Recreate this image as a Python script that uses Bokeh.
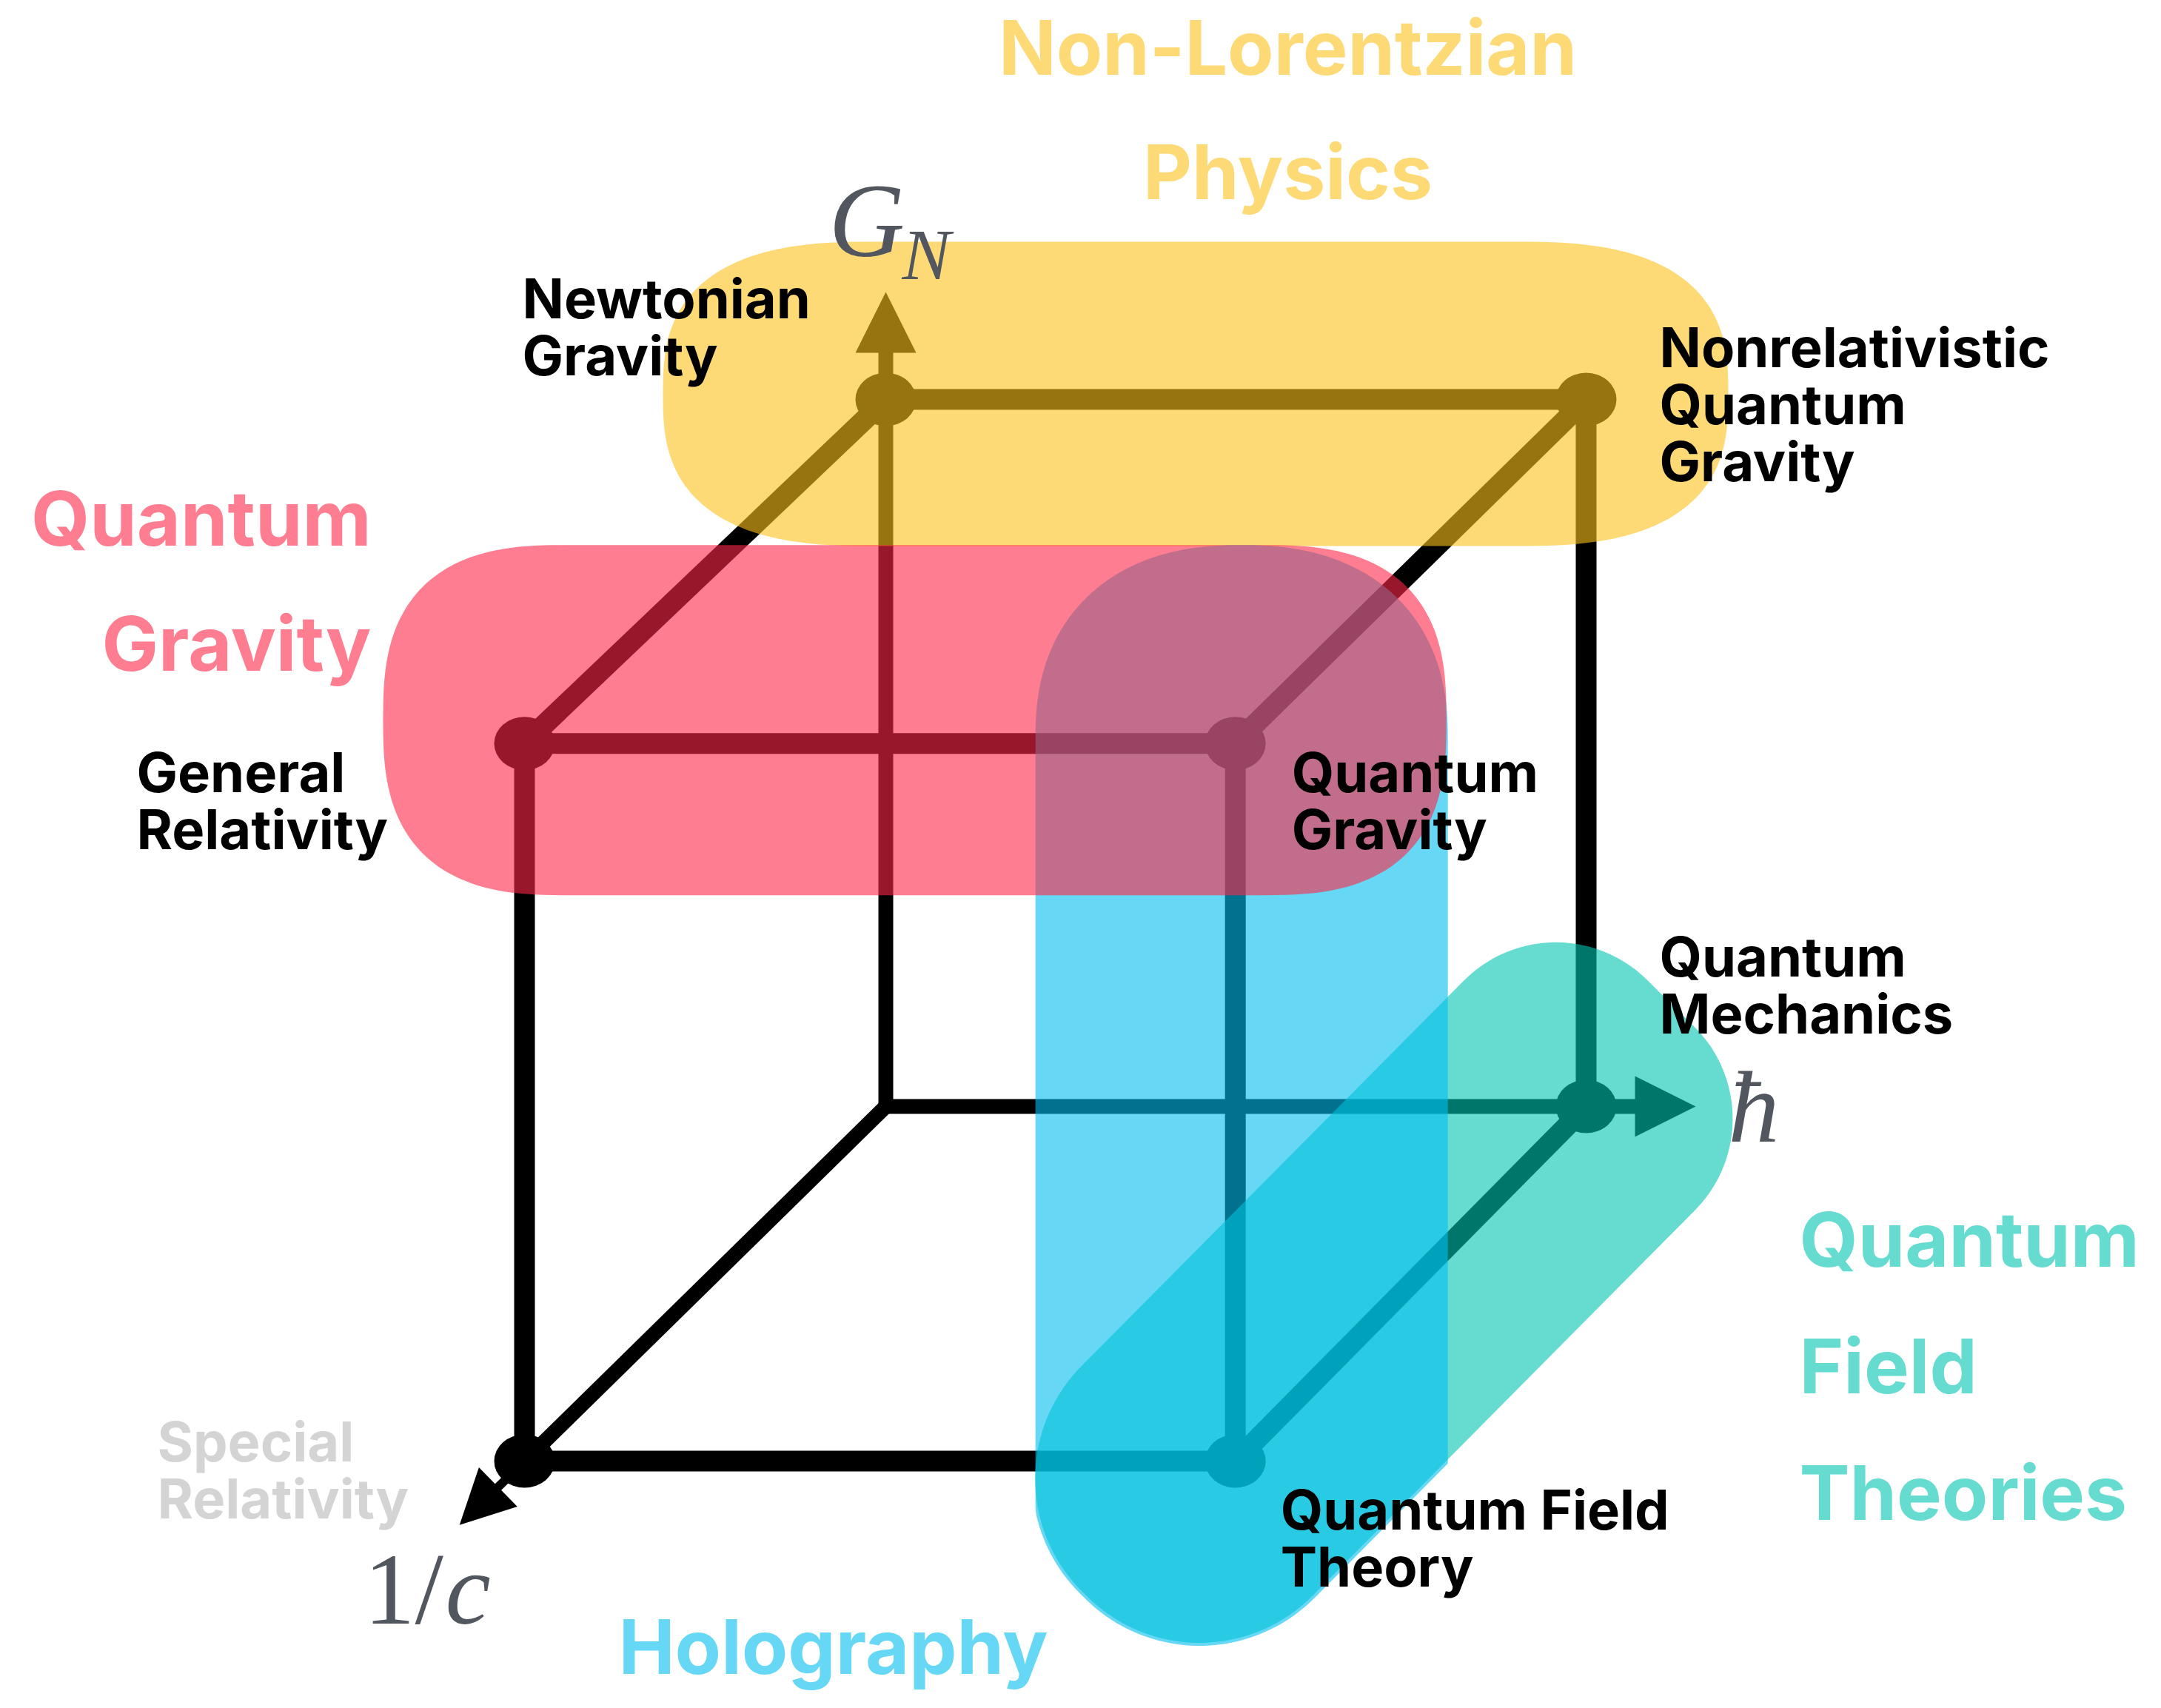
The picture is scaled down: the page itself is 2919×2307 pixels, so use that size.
import numpy as np
from bokeh.plotting import figure
from bokeh.models import Range1d
from bokeh.embed import file_html
from bokeh.resources import INLINE
from bokeh.core.properties import value

# ---------------- data ----------------
# theories sit on the corners of the (hbar, G_N, 1/c) cube
theory_names = ["Special Relativity", "General Relativity", "Newtonian Gravity",
                "Nonrelativistic Quantum Gravity", "Quantum Mechanics",
                "Quantum Field Theory", "Quantum Gravity"]
theory_hbar = [0, 0, 0, 1, 1, 1, 1]
theory_gn = [0, 1, 1, 1, 0, 0, 1]
theory_invc = [1, 1, 0, 0, 0, 1, 1]
theory_label_lines = [["Special", "Relativity"], ["General", "Relativity"],
                      ["Newtonian", "Gravity"], ["Nonrelativistic", "Quantum", "Gravity"],
                      ["Quantum", "Mechanics"], ["Quantum Field", "Theory"],
                      ["Quantum", "Gravity"]]

cube_edges = [("Newtonian Gravity", "Nonrelativistic Quantum Gravity"),
              ("Nonrelativistic Quantum Gravity", "Quantum Mechanics"),
              ("Newtonian Gravity", "General Relativity"),
              ("Nonrelativistic Quantum Gravity", "Quantum Gravity"),
              ("General Relativity", "Quantum Gravity"),
              ("General Relativity", "Special Relativity"),
              ("Quantum Gravity", "Quantum Field Theory"),
              ("Special Relativity", "Quantum Field Theory"),
              ("Quantum Mechanics", "Quantum Field Theory")]

region_names = ["Non-Lorentzian Physics", "Quantum Gravity", "Holography", "Quantum Field Theories"]
region_members = [["Newtonian Gravity", "Nonrelativistic Quantum Gravity"],
                  ["General Relativity", "Quantum Gravity"],
                  ["Quantum Gravity", "Quantum Field Theory"],
                  ["Quantum Mechanics", "Quantum Field Theory"]]
region_label_lines = [["Non-Lorentzian", "Physics"], ["Quantum", "Gravity"],
                      ["Holography"], ["Quantum", "Field", "Theories"]]

# ---------------- layout / style ----------------
ORIGIN = np.array([1204.0, 1502.0])
U_HBAR = np.array([946.0, 0.0])
V_GN = np.array([0.0, -955.0])
D_INVC = np.array([-488.0, 479.0])
DEPTH_SCALE = 0.015


def project(h, g, c):
    return ORIGIN + c * D_INVC + (1 + DEPTH_SCALE * c) * (h * U_HBAR + g * V_GN)


pos = {n: project(h, g, c) for n, h, g, c in zip(theory_names, theory_hbar, theory_gn, theory_invc)}

region_colors = ["#FCC21B", "#FF2646", "#00BEEE", "#00C4B3"]
ALPHA = 0.6
AX_COL = "#52565E"
SANS = value("Inter")
SERIF = value("Liberation Serif")

p = figure(width=2903, height=2291, x_range=Range1d(8, 2911), y_range=Range1d(2299, 8),
           output_backend="svg", toolbar_location=None, min_border=0)
p.axis.visible = False
p.grid.visible = False
p.outline_line_color = None
p.background_fill_color = "white"
p.border_fill_color = "white"

# --- axes (thin) ---
gpt, hpt, cpt = pos["Newtonian Gravity"], pos["Quantum Mechanics"], pos["Special Relativity"]
p.line([gpt[0], ORIGIN[0], hpt[0]], [gpt[1], ORIGIN[1], hpt[1]], line_width=20,
       line_color="black", line_join="miter")
p.line([ORIGIN[0], cpt[0]], [ORIGIN[1], cpt[1]], line_width=20, line_color="black")

# --- cube edges ---
xs = [[pos[a][0], pos[b][0]] for a, b in cube_edges]
ys = [[pos[a][1], pos[b][1]] for a, b in cube_edges]
p.multi_line(xs, ys, line_width=28, line_color="black")

# --- arrow shafts and heads ---
arrow_specs = [  # (vertex, direction, base offset, tip offset, half width, shaft width)
    (gpt, np.array([0.0, -1.0]), 63, 145, 41, 20),
    (hpt, np.array([1.0, 0.0]), 66, 148, 41, 20),
    (cpt, D_INVC / np.linalg.norm(D_INVC), 50, 123, 37, 12),
]
hx, hy = [], []
for v, d, b, t, hw, sw in arrow_specs:
    nrm = np.array([-d[1], d[0]])
    base = v + b * d
    p.line([v[0], base[0] + d[0] * 2], [v[1], base[1] + d[1] * 2], line_width=sw, line_color="black")
    tip = v + t * d
    c1, c2 = base + hw * nrm, base - hw * nrm
    hx.append([tip[0], c1[0], c2[0]])
    hy.append([tip[1], c1[1], c2[1]])
p.patches(hx, hy, fill_color="black", line_color=None)

# --- vertex dots ---
p.ellipse([pos[n][0] for n in theory_names], [pos[n][1] for n in theory_names],
          width=82, height=72, fill_color="black", line_color=None)


# --- highlighted regions ---
def _spow(v, e):
    return np.sign(v) * np.abs(v) ** e


def corner_arc(cx, cy, rx, ry, a0, a1, pw=2.0, n=48):
    e = 2.0 / pw
    t = np.linspace(a0, a1, n)
    return list(zip(cx + rx * _spow(np.cos(t), e), cy + ry * _spow(np.sin(t), e)))


def rounded_rect(x0, x1, y0, y1, top, bottom, pw=2.0):
    (rxt, ryt), (rxb, ryb) = top, bottom
    pts = []
    pts += corner_arc(x1 - rxt, y0 + ryt, rxt, ryt, -np.pi / 2, 0, pw)
    pts += corner_arc(x1 - rxb, y1 - ryb, rxb, ryb, 0, np.pi / 2, pw)
    pts += corner_arc(x0 + rxb, y1 - ryb, rxb, ryb, np.pi / 2, np.pi, pw)
    pts += corner_arc(x0 + rxt, y0 + ryt, rxt, ryt, np.pi, 1.5 * np.pi, pw)
    return pts


def arc_between(c, r, a, b, n=40):
    # quarter arc around c from unit direction a to unit direction b
    return [c + r * (np.cos(t) * a + np.sin(t) * b) for t in np.linspace(0, np.pi / 2, n)]


def band_pieces(e_top, e_bot, half_w, rc_top, rc_bot):
    """rotated rounded rectangle; returns its outline split in named pieces."""
    d = (e_top - e_bot) / np.linalg.norm(e_top - e_bot)
    nv = np.array([-d[1], d[0]])
    tr, tl = e_top + (half_w - rc_top) * nv, e_top - (half_w - rc_top) * nv
    br, bl = e_bot + (half_w - rc_bot) * nv, e_bot - (half_w - rc_bot) * nv
    return {
        "right_edge": [e_top + half_w * nv, e_bot + half_w * nv],
        "bot_right": arc_between(br, rc_bot, nv, -d),
        "bot_left": arc_between(bl, rc_bot, -d, -nv),
        "left_edge": [e_bot - half_w * nv, e_top - half_w * nv],
        "top_left": arc_between(tl, rc_top, -nv, d),
        "top_right": arc_between(tr, rc_top, d, nv),
    }


def to_xy(pts):
    arr = np.array(pts, dtype=float)
    return list(arr[:, 0]), list(arr[:, 1])


# padding (left, right, top, bottom), corner radii (top, bottom) and corner power
region_box = {
    "Non-Lorentzian Physics": (301, 192, 213, 198, (290, 205), (290, 205), 2.7),
    "Quantum Gravity": (191, 285, 268, 205, (250, 236), (250, 236), 2.7),
}
# the quantum field theory band: ends relative to its two theories
band_shift = [np.array([-9.0, -15.0]), np.array([-52.0, 27.0])]
BAND_W, BAND_RC_TOP, BAND_RC_BOT = 220, 175, 215
qm, qft = pos["Quantum Mechanics"], pos["Quantum Field Theory"]
e_top, e_bot = qm + band_shift[0], qft + band_shift[1]

region_shape = {}
for name, mem in zip(region_names, region_members):
    pts = np.array([pos[m] for m in mem])
    if name in region_box:
        l, r, t, b, rt, rb, pw = region_box[name]
        region_shape[name] = to_xy(rounded_rect(pts[:, 0].min() - l, pts[:, 0].max() + r,
                                                pts[:, 1].min() - t, pts[:, 1].max() + b, rt, rb, pw))

pc = band_pieces(e_top, e_bot, BAND_W, BAND_RC_TOP, BAND_RC_BOT)
region_shape["Quantum Field Theories"] = to_xy(
    pc["right_edge"] + pc["bot_right"] + pc["bot_left"] + pc["left_edge"] + pc["top_left"] + pc["top_right"])

# holography: vertical band whose lower end follows the QFT band
hx0 = pos["Quantum Gravity"][0] - 270
hx1 = pos["Quantum Gravity"][0] + 287
hy0 = pos["Quantum Gravity"][1] - 268
pe = band_pieces(e_top, e_bot, BAND_W + 4, BAND_RC_TOP + 4, BAND_RC_BOT + 4)
re0, re1 = pe["right_edge"]
s = (hx1 - re0[0]) / (re1[0] - re0[0])
cross = re0 + s * (re1 - re0)
lower = [cross] + pe["bot_right"] + pe["bot_left"]
lower_arr = np.array(lower)
k_left = int(np.argmin(lower_arr[:, 0]))
lower = [np.array([max(q[0], hx0), q[1]]) for q in lower[:k_left + 1]]
lower.append(np.array([hx0, lower[-1][1]]))
holo = []
holo += corner_arc(hx0 + 278, hy0 + 260, 278, 260, np.pi, 1.5 * np.pi, 2.3)
holo += corner_arc(hx1 - 278, hy0 + 260, 278, 260, -np.pi / 2, 0, 2.3)
holo += [tuple(q) for q in lower]
region_shape["Holography"] = to_xy(holo)

draw_order = ["Non-Lorentzian Physics", "Quantum Field Theories", "Holography", "Quantum Gravity"]
for name in draw_order:
    i = region_names.index(name)
    sx, sy = region_shape[name]
    p.patch(sx, sy, fill_color=region_colors[i], fill_alpha=ALPHA, line_color=None)

# --- theory labels ---
label_offset = {"Special Relativity": (-496, -7), "General Relativity": (-524, 59),
                "Newtonian Gravity": (-491, -117), "Nonrelativistic Quantum Gravity": (99, -51),
                "Quantum Mechanics": (99, -183), "Quantum Field Theory": (61, 85),
                "Quantum Gravity": (76, 59)}
LINE_H = 77
SMALL = 74
BASE_FIX_SMALL = -20
tx, ty, tt, tc = [], [], [], []
for n, lines in zip(theory_names, theory_label_lines):
    ox, oy = label_offset[n]
    for k, line in enumerate(lines):
        tx.append(pos[n][0] + ox)
        ty.append(pos[n][1] + oy + k * LINE_H + BASE_FIX_SMALL)
        tt.append(line)
        tc.append("#D4D4D4" if n == "Special Relativity" else "black")
p.text(x=tx, y=ty, text=tt, text_color=tc, text_font=SANS, text_font_style="bold",
       text_font_size=f"{SMALL}px", text_baseline="alphabetic", text_align="left")

# --- region labels ---
BIG = 102
BASE_FIX_BIG = -27
region_label_anchor = {  # x, first baseline, line spacing, align
    "Non-Lorentzian Physics": (1747, 98, 168, "center"),
    "Quantum Gravity": (509, 734, 169, "right"),
    "Holography": (1133, 2258, 0, "center"),
    "Quantum Field Theories": (2438, 1708, 171, "left"),
}
for name, lines, col in zip(region_names, region_label_lines, region_colors):
    x0, y0, dy, al = region_label_anchor[name]
    p.text(x=[x0] * len(lines), y=[y0 + k * dy + BASE_FIX_BIG for k in range(len(lines))],
           text=lines, text_color=col, text_alpha=ALPHA, text_font=SANS, text_font_style="bold",
           text_font_size=f"{BIG}px", text_baseline="alphabetic", text_align=al)

# --- axis labels ---
p.text(x=[1127], y=[305], text=["G"], text_color=AX_COL, text_font=SERIF,
       text_font_style="italic", text_font_size="142px", text_baseline="alphabetic")
p.text(x=[1226], y=[351], text=["N"], text_color=AX_COL, text_font=SERIF,
       text_font_style="italic", text_font_size="98px", text_baseline="alphabetic")
p.text(x=[2342], y=[1503], text=["\u0127"], text_color=AX_COL, text_font=SERIF,
       text_font_style="italic", text_font_size="138px", text_baseline="alphabetic")
p.text(x=[499], y=[2154], text=["1/"], text_color=AX_COL, text_font=SERIF,
       text_font_style="normal", text_font_size="138px", text_baseline="alphabetic")
p.text(x=[609], y=[2154], text=["c"], text_color=AX_COL, text_font=SERIF,
       text_font_style="italic", text_font_size="138px", text_baseline="alphabetic")

open("out.html", "w").write(file_html(p, INLINE))
